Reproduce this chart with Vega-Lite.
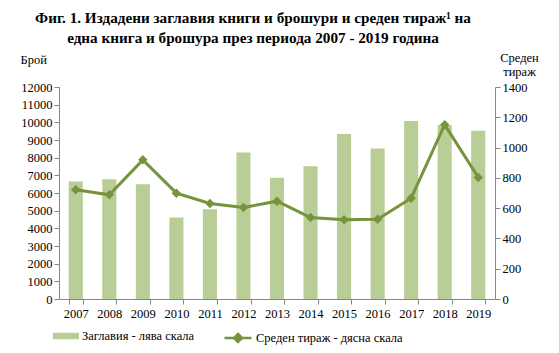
{
"$schema": "https://vega.github.io/schema/vega-lite/v6.json",
"width": 436, "height": 212,
"autosize": "none",
"padding": {"left": 59, "top": 87, "right": 64, "bottom": 54},
"background": "white",
"config": {"font": "Liberation Serif", "view": {"stroke": null},
  "axis": {"labelFont": "Liberation Serif", "labelFontSize": 12.5, "labelColor": "black", "titleFont": "Liberation Serif", "titleFontSize": 12.5, "titleFontWeight": "normal", "titleColor": "black", "domainColor": "#868686", "tickColor": "#868686", "tickSize": 5, "grid": false},
  "legend": {"labelFont": "Liberation Serif", "labelFontSize": 12.5, "labelColor": "black"}},
"title": {"text": ["Фиг. 1. Издадени заглавия книги и брошури и среден тираж¹ на", "една книга и брошура през периода 2007 - 2019 година"], "font": "Liberation Serif", "fontSize": 15.2, "fontWeight": "bold", "color": "black", "anchor": "middle", "frame": "group", "dx": -24, "offset": 5, "lineHeight": 20},
"data": {"values": [
 {"year": "2007", "titles": 6650, "circ": 721},
 {"year": "2008", "titles": 6780, "circ": 688},
 {"year": "2009", "titles": 6500, "circ": 919},
 {"year": "2010", "titles": 4610, "circ": 699},
 {"year": "2011", "titles": 5080, "circ": 631},
 {"year": "2012", "titles": 8290, "circ": 604},
 {"year": "2013", "titles": 6860, "circ": 646},
 {"year": "2014", "titles": 7520, "circ": 538},
 {"year": "2015", "titles": 9340, "circ": 523},
 {"year": "2016", "titles": 8520, "circ": 527},
 {"year": "2017", "titles": 10070, "circ": 666},
 {"year": "2018", "titles": 9850, "circ": 1151},
 {"year": "2019", "titles": 9530, "circ": 803}
]},
"encoding": {"x": {"field": "year", "type": "ordinal", "scale": {"paddingInner": 0.58, "paddingOuter": 0.29},
  "axis": {"title": null, "labelAngle": 0, "tickBand": "extent", "labelPadding": 3, "labelFont": "Liberation Serif", "labelFontSize": 12.5}}},
"layer": [
 {"mark": {"type": "bar"},
  "encoding": {
   "y": {"field": "titles", "type": "quantitative", "scale": {"domain": [0, 12000]},
     "axis": {"values": [0,1000,2000,3000,4000,5000,6000,7000,8000,9000,10000,11000,12000], "format": "d", "labelFont": "Liberation Serif", "labelFontSize": 12.5, "labelPadding": 2, "title": "Брой", "titleFont": "Liberation Serif", "titleAngle": 0, "titleX": -39, "titleY": -24, "titleAlign": "left", "titleBaseline": "alphabetic"}},
   "color": {"datum": "Заглавия - лява скала", "scale": {"range": ["#B9CD96"]},
     "legend": {"title": null, "orient": "none", "legendX": -6, "legendY": 236, "padding": 0, "labelFont": "Liberation Serif", "labelFontSize": 12.5, "symbolType": "M-1,-0.25H1V0.25H-1Z", "symbolSize": 676, "symbolStrokeWidth": 0, "labelOffset": 3}}
  }},
 {"mark": {"type": "line", "strokeWidth": 3, "point": {"shape": "diamond", "size": 90, "filled": true}},
  "encoding": {
   "y": {"field": "circ", "type": "quantitative", "scale": {"domain": [0, 1400]},
     "axis": {"orient": "right", "values": [0,200,400,600,800,1000,1200,1400], "format": "d", "labelFont": "Liberation Serif", "labelFontSize": 12.5, "labelPadding": 2, "title": ["Среден", "тираж"], "titleFont": "Liberation Serif", "titleAngle": 0, "titleX": 24, "titleY": -26, "titleAlign": "center", "titleBaseline": "alphabetic", "titleLineHeight": 14.5}},
   "color": {"datum": "Среден тираж - дясна скала", "scale": {"range": ["#77933C"]},
     "legend": {"title": null, "orient": "none", "legendX": 164, "legendY": 236, "padding": 0, "labelFont": "Liberation Serif", "labelFontSize": 12.5, "symbolType": "M-1,0L1,0M0,-0.3L0.3,0L0,0.3L-0.3,0Z", "symbolSize": 729, "symbolStrokeWidth": 2.5, "symbolFillColor": "#77933C", "symbolStrokeColor": "#77933C", "labelOffset": 3,
       "encode": {"symbols": {"update": {"fill": {"value": "#77933C"}, "stroke": {"value": "#77933C"}, "strokeWidth": {"value": 2.5}}}}}}
  }}
],
"resolve": {"scale": {"y": "independent", "color": "independent"}}
}
